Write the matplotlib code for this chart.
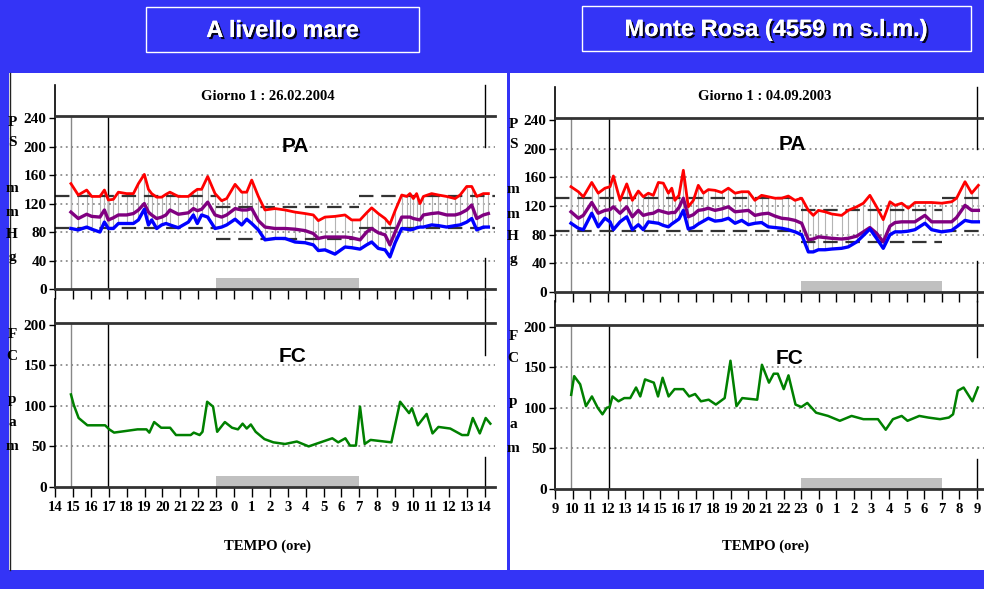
import matplotlib
matplotlib.use("Agg")
import matplotlib.pyplot as plt
from matplotlib import patheffects as pe
from matplotlib.patches import Rectangle
from matplotlib.lines import Line2D

plt.rcParams["font.family"] = "Liberation Serif"
plt.rcParams["font.weight"] = "bold"

W, H = 984, 589
BLUE = "#3434f6"

# ---- sea level, 26.02.2004 (hours after 14:00) ----
sea_start = 14
sea_date = "26.02.2004"
sea_marks = [0.9, 2.97]
sea_t = [0.89, 1.30, 1.77, 2.05, 2.51, 2.76, 2.98, 3.26, 3.54, 4.00,
         4.38, 4.66, 4.99, 5.22, 5.40, 5.68, 5.96, 6.20, 6.42, 6.89,
         7.45, 7.73, 7.95, 8.19, 8.53, 8.94, 9.31, 9.59, 10.06, 10.43,
         10.71, 10.99, 11.36, 11.73, 12.29, 12.85, 13.41, 13.97, 14.43, 14.71,
         15.08, 15.64, 16.20, 16.57, 17.04, 17.41, 17.69, 18.06, 18.44, 18.71,
         19.00, 19.37, 19.65, 19.83, 20.02, 20.20, 20.39, 20.58, 21.04, 21.42,
         21.88, 22.35, 22.63, 23.00, 23.28, 23.56, 23.93, 24.21]
sea_sys = [148, 132, 139, 130, 130, 139, 125, 126, 136, 134,
           134, 148, 161, 140, 134, 129, 129, 133, 136, 130,
           130, 136, 140, 140, 158, 134, 124, 127, 147, 136,
           136, 153, 130, 111, 113, 111, 108, 106, 104, 96,
           101, 102, 104, 97, 97, 107, 114, 106, 99, 91,
           110, 132, 130, 134, 127, 134, 120, 130, 134, 132,
           130, 127, 132, 144, 144, 130, 134, 134]
sea_mean = [108, 99, 105, 102, 101, 111, 97, 100, 104, 104,
            106, 111, 120, 108, 104, 99, 101, 104, 111, 105,
            107, 113, 110, 112, 122, 104, 101, 104, 113, 111,
            111, 113, 96, 87, 85, 85, 84, 82, 78, 71,
            73, 73, 73, 72, 69, 80, 85, 79, 76, 62,
            80, 101, 101, 101, 99, 98, 97, 104, 106, 107,
            104, 104, 106, 111, 118, 99, 104, 106]
sea_dia = [85, 83, 87, 84, 80, 94, 85, 85, 92, 92,
           92, 97, 112, 90, 97, 85, 90, 92, 90, 86,
           94, 104, 92, 104, 101, 85, 87, 90, 98, 90,
           98, 92, 83, 69, 71, 71, 66, 65, 62, 54,
           55, 49, 59, 58, 56, 62, 66, 57, 55, 45,
           65, 85, 84, 83, 84, 86, 87, 87, 90, 89,
           87, 89, 90, 94, 99, 83, 87, 87]
sea_fc_t = [0.89, 1.05, 1.32, 1.81, 2.80, 3.03, 3.30, 3.96, 4.61, 5.11,
            5.27, 5.54, 5.93, 6.43, 6.76, 7.58, 7.75, 8.08, 8.24, 8.50,
            8.83, 9.06, 9.49, 9.89, 10.22, 10.48, 10.71, 10.94, 11.21, 11.70,
            12.20, 12.85, 13.51, 14.17, 14.83, 15.49, 15.82, 16.22, 16.48, 16.81,
            17.04, 17.30, 17.63, 18.79, 19.28, 19.78, 19.94, 20.27, 20.76, 21.09,
            21.42, 22.08, 22.74, 23.07, 23.34, 23.73, 24.06, 24.32]
sea_fc = [114, 101, 85, 76, 76, 71, 67, 69, 71, 71,
          67, 80, 73, 73, 64, 64, 67, 64, 68, 105,
          99, 68, 80, 73, 71, 78, 72, 77, 68, 59,
          55, 53, 56, 50, 55, 60, 55, 60, 51, 51,
          99, 53, 58, 55, 105, 91, 97, 76, 90, 66,
          74, 72, 64, 64, 85, 66, 85, 78]

# ---- Monte Rosa, 04.09.2003 (hours after 9:00) ----
rosa_start = 9
rosa_date = "04.09.2003"
rosa_marks = [0.91, 3.07]
rosa_t = [0.91, 1.33, 1.61, 2.09, 2.46, 2.84, 3.13, 3.32, 3.70, 4.08,
          4.40, 4.74, 5.02, 5.31, 5.59, 5.88, 6.16, 6.45, 6.64, 6.82,
          7.05, 7.30, 7.58, 7.87, 8.15, 8.44, 8.72, 9.10, 9.48, 9.86,
          10.24, 10.62, 11.00, 11.37, 11.75, 12.13, 12.51, 12.89, 13.27, 13.65,
          14.03, 14.41, 14.69, 14.98, 15.36, 15.73, 16.30, 16.68, 17.16, 17.54,
          17.91, 18.29, 18.67, 19.05, 19.34, 19.72, 20.09, 20.47, 21.04, 21.42,
          21.99, 22.56, 22.84, 23.32, 23.70, 24.08]
rosa_sys = [147, 140, 133, 153, 138, 145, 147, 162, 128, 151,
            128, 141, 133, 138, 135, 153, 152, 138, 145, 128,
            135, 170, 119, 128, 149, 138, 143, 142, 139, 145,
            138, 140, 140, 128, 135, 133, 131, 131, 134, 128,
            131, 114, 107, 114, 112, 109, 107, 114, 119, 124,
            135, 119, 101, 126, 121, 124, 117, 125, 125, 125,
            124, 126, 131, 154, 138, 149]
rosa_mean = [112, 103, 107, 125, 110, 114, 115, 119, 110, 119,
             105, 114, 107, 109, 110, 114, 112, 110, 111, 111,
             118, 131, 105, 108, 114, 115, 117, 114, 116, 119,
             112, 113, 114, 107, 109, 110, 106, 103, 102, 100,
             96, 73, 74, 77, 76, 75, 74, 75, 78, 84,
             90, 82, 70, 92, 97, 98, 98, 98, 107, 98,
             98, 98, 104, 121, 114, 114]
rosa_dia = [96, 89, 87, 110, 91, 103, 98, 87, 98, 105,
            87, 94, 87, 98, 97, 96, 93, 91, 95, 98,
            102, 114, 88, 90, 95, 99, 103, 99, 100, 103,
            96, 100, 94, 96, 97, 91, 90, 89, 87, 84,
            80, 56, 56, 59, 59, 60, 61, 63, 70, 79,
            88, 75, 61, 80, 84, 84, 85, 87, 96, 87,
            84, 86, 91, 100, 98, 98]
rosa_fc_t = [0.92, 1.09, 1.43, 1.76, 2.10, 2.43, 2.70, 2.94, 3.11, 3.27,
             3.61, 3.94, 4.28, 4.61, 4.85, 5.12, 5.62, 5.86, 6.12, 6.46,
             6.80, 7.30, 7.63, 7.97, 8.30, 8.74, 9.15, 9.65, 9.98, 10.32,
             10.65, 11.50, 11.77, 12.17, 12.44, 12.67, 13.01, 13.28, 13.68, 14.01,
             14.35, 14.85, 15.53, 16.20, 16.87, 17.54, 18.37, 18.81, 19.22, 19.72,
             20.05, 20.72, 21.23, 21.90, 22.40, 22.64, 22.91, 23.24, 23.74, 24.05]
rosa_fc = [116, 139, 129, 102, 114, 100, 92, 100, 101, 114,
           108, 112, 112, 125, 114, 135, 131, 114, 137, 114,
           123, 123, 114, 117, 108, 110, 104, 112, 158, 102,
           112, 110, 153, 131, 142, 142, 123, 140, 104, 101,
           106, 94, 90, 84, 90, 86, 86, 73, 86, 90,
           84, 90, 88, 86, 88, 92, 121, 125, 108, 125]

day_lim = [131, 85]
night_lim = [115, 70]
pa_ticks = [0, 40, 80, 120, 160, 200, 240]
pa_grid = [40, 80, 120, 160, 200]
fc_ticks = [0, 50, 100, 150, 200]
fc_grid = [50, 100, 150]


def fbox(l, t, r, b):
    return [l / W, 1 - b / H, (r - l) / W, (b - t) / H]


def ftext(x, y, s, **kw):
    return fig.text(x / W, 1 - y / H, s, **kw)


fig = plt.figure(figsize=(W / 100, H / 100), dpi=100, facecolor=BLUE)

# white panels
for l, r in [(9, 507), (510, 984)]:
    fig.add_artist(Rectangle((l / W, 1 - 570 / H), (r - l) / W, (570 - 73) / H,
                             transform=fig.transFigure, facecolor="white",
                             edgecolor="none", zorder=-2))
fig.add_artist(Line2D([9.5 / W, 9.5 / W], [1 - 570 / H, 1 - 73 / H],
                      transform=fig.transFigure, color="#222222", lw=1))

# header boxes
shadow = [pe.withSimplePatchShadow(offset=(1.5, -1.5), shadow_rgbFace="black", alpha=0.9),
          pe.Normal()]
for (l, t, r, b), title in [((146, 7, 419, 52), "A livello mare"),
                            ((582, 6, 971, 51), "Monte Rosa (4559 m s.l.m.)")]:
    fig.add_artist(Rectangle((l / W, 1 - b / H), (r - l) / W, (b - t) / H,
                             transform=fig.transFigure, facecolor="none",
                             edgecolor="white", lw=1))
    ftext((l + r) / 2, (t + b) / 2 + 1, title, family="Liberation Sans", weight="bold",
          size=17, color="white", ha="center", va="center", path_effects=shadow)


def draw_panel(pa_box, fc_box, xmax, start, marks, t, sys, mean, dia, fc_t, fc):
    h23 = (23 - start) % 24
    h7 = (7 - start) % 24
    ax = fig.add_axes(fbox(*pa_box))
    bx = fig.add_axes(fbox(*fc_box))
    for a, ymax, ticks, grid, top_ext, gap, night_h in [
            (ax, 243, pa_ticks, pa_grid, 286, (43, 200), 16),
            (bx, 202, fc_ticks, fc_grid, 231, (37, 163), 13)]:
        a.set_xlim(0, xmax)
        a.set_ylim(0, ymax)
        a.set_xticks(range(25))
        a.set_yticks(ticks)
        a.spines["right"].set_visible(False)
        for s in ("top", "bottom"):
            a.spines[s].set_linewidth(2)
            a.spines[s].set_color("#333333")
        a.spines["left"].set_linewidth(1.2)
        a.tick_params(axis="y", length=4, width=1, pad=2, labelsize=11)
        a.tick_params(axis="x", length=7, width=1, pad=3, labelsize=10.5)
        a.hlines(grid, 0, xmax, colors="#8c8c8c", linestyles=(0, (1, 2)), lw=1.3, zorder=0.5)
        for m, c in zip(marks, ("#888888", "black")):
            a.axvline(m, color=c, lw=1, zorder=1)
        a.plot([0, 0], [ymax, top_ext], color="black", lw=1.2, clip_on=False)
        a.plot([24, 24], [0, gap[0]], color="black", lw=1, clip_on=False)
        a.plot([24, 24], [gap[1], top_ext], color="black", lw=1, clip_on=False)
        a.bar(h23, night_h, width=h7 - h23, align="edge", color="#c0c0c0", zorder=1)
    ax.tick_params(axis="x", labelbottom=False)
    bx.set_xticklabels([str((start + i) % 24) for i in range(25)])

    ax.vlines(t, dia, sys, colors="#b4b4b4", lw=0.8, zorder=1.5)
    for lo, hi, lim in [(0, h23, day_lim), (h23, h7, night_lim), (h7, xmax, day_lim)]:
        ax.hlines(lim, lo, hi, colors="#333333", linestyles=(0, (6.5, 3.5)), lw=1.6, zorder=2)
    ax.plot(t, sys, color="#ff0000", lw=2, zorder=3)
    ax.plot(t, mean, color="#800080", lw=2.4, zorder=3)
    ax.plot(t, dia, color="#0000ff", lw=2.4, zorder=3)
    bx.plot(fc_t, fc, color="#008000", lw=1.8, zorder=3)
    return ax, bx


draw_panel((55, 116, 495, 289), (55, 323, 495, 487), 24.58, sea_start, sea_marks,
           sea_t, sea_sys, sea_mean, sea_dia, sea_fc_t, sea_fc)
draw_panel((555, 118, 984, 292), (555, 325, 984, 489), 24.4, rosa_start, rosa_marks,
           rosa_t, rosa_sys, rosa_mean, rosa_dia, rosa_fc_t, rosa_fc)

# panel texts
for cx, lx, dy, date in [(268, 12, 0, sea_date), (765, 513, 2, rosa_date)]:
    ftext(cx, 97, "Giorno 1 : " + date, size=10.5, ha="center", va="center")
    ftext(cx, 546, "TEMPO (ore)", size=10.5, ha="center", va="center")
    ftext(cx + 27, 146 - dy, "PA", family="Liberation Sans", weight="bold", size=15,
          ha="center", va="center")
    ftext(cx + 25, 357 + dy, "FC", family="Liberation Sans", weight="bold", size=15,
          ha="center", va="center")
    for ch, y in zip("PSmmHg", [122, 143, 188, 213, 235, 257]):
        ftext(lx, y + dy, ch, size=11, ha="center", va="center")
    for ch, y in zip("FCpam", [334, 357, 400, 423, 446]):
        ftext(lx, y + dy, ch, size=11, ha="center", va="center")

fig.savefig("out.png", dpi=100, facecolor=BLUE)
